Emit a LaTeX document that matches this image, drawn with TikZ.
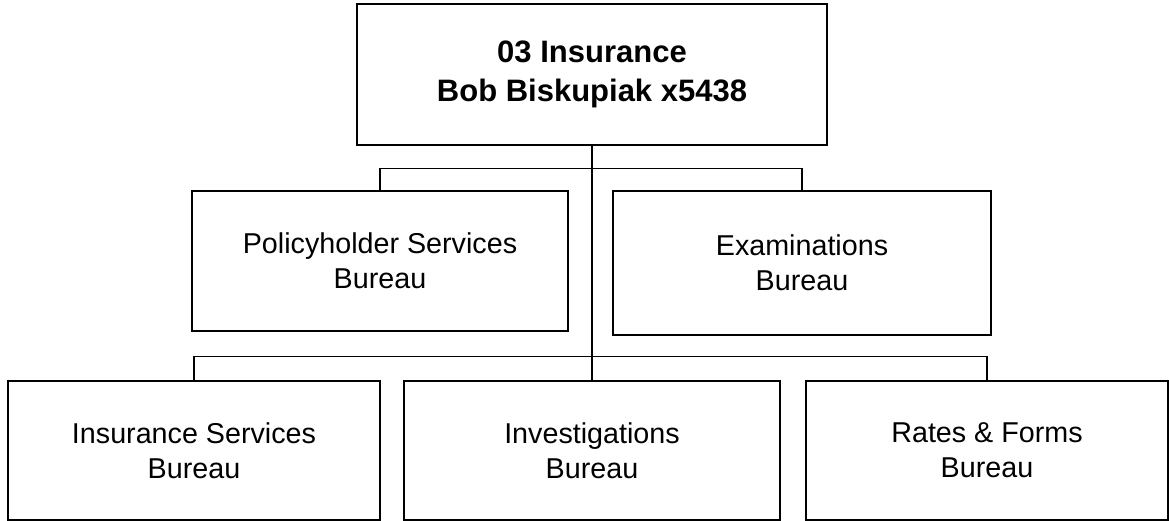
\documentclass[tikz,border=0pt]{standalone}
\usepackage{fontspec}
\setmainfont{Liberation Sans}
\begin{document}
\begin{tikzpicture}[x=1pt,y=-1pt,
  box/.style={draw, line width=1.6pt, inner sep=0pt, align=center,
    font=\fontsize{28.7}{35}\selectfont},
  topbox/.style={box, font=\fontsize{31}{39}\selectfont\bfseries},
  conn/.style={line width=1.1pt}]
\useasboundingbox (0,0) rectangle (1169,521);
\node[topbox, minimum width=470pt, minimum height=141pt] (top) at (592,74.5) {03 Insurance\\Bob Biskupiak x5438};
\node[box, minimum width=376pt, minimum height=140pt] (pol) at (380,261) {Policyholder Services\\Bureau};
\node[box, minimum width=378pt, minimum height=144pt] (exam) at (802,263) {Examinations\\Bureau};
\node[box, minimum width=372pt, minimum height=139pt] (ins) at (194,450.5) {Insurance Services\\Bureau};
\node[box, minimum width=376pt, minimum height=139pt] (inv) at (592,450.5) {Investigations\\Bureau};
\node[box, minimum width=362pt, minimum height=139pt] (rates) at (987,450.5) {Rates \& Forms\\Bureau};
\draw[conn] (top.south) -- (inv.north);
\draw[conn] (pol.north) -- ++(0,-22) -| (exam.north);
\draw[conn] (ins.north) -- ++(0,-24) -| (rates.north);
\end{tikzpicture}
\end{document}
